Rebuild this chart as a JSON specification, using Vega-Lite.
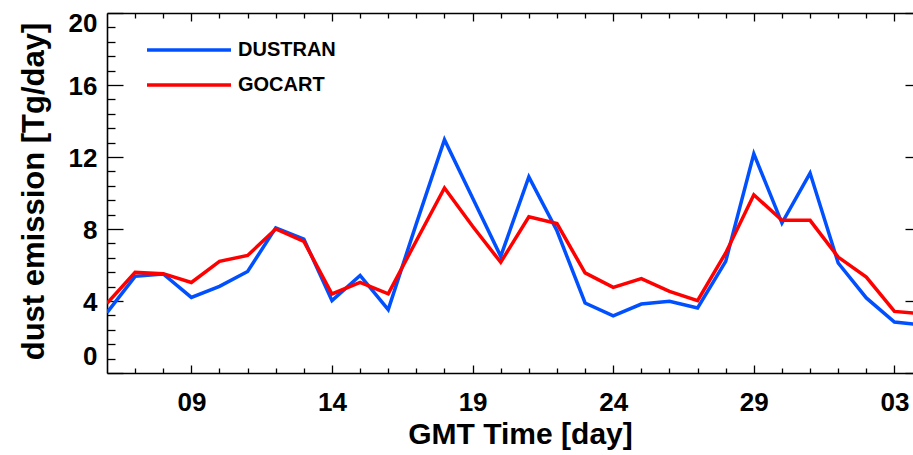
{
  "$schema": "https://vega.github.io/schema/vega-lite/v6.json",
  "width": 806,
  "height": 360,
  "autosize": {"type": "none"},
  "padding": {"left": 107, "top": 13, "right": 0, "bottom": 82},
  "background": "white",
  "config": {
    "view": {"stroke": null},
    "axis": {
      "labelFont": "Liberation Sans", "labelFontWeight": "bold", "labelColor": "black",
      "titleFont": "Liberation Sans", "titleFontWeight": "bold", "titleColor": "black",
      "grid": false, "domainColor": "black", "tickColor": "black", "domainWidth": 1.6, "tickWidth": 1.3
    }
  },
  "data": {"values": [
    {"day": 6, "model": "DUSTRAN", "value": 3.35},
    {"day": 7, "model": "DUSTRAN", "value": 5.37},
    {"day": 8, "model": "DUSTRAN", "value": 5.5},
    {"day": 9, "model": "DUSTRAN", "value": 4.2},
    {"day": 10, "model": "DUSTRAN", "value": 4.81},
    {"day": 11, "model": "DUSTRAN", "value": 5.64},
    {"day": 12, "model": "DUSTRAN", "value": 8.06},
    {"day": 13, "model": "DUSTRAN", "value": 7.44},
    {"day": 14, "model": "DUSTRAN", "value": 4.02},
    {"day": 15, "model": "DUSTRAN", "value": 5.42},
    {"day": 16, "model": "DUSTRAN", "value": 3.52},
    {"day": 17, "model": "DUSTRAN", "value": 8.3},
    {"day": 18, "model": "DUSTRAN", "value": 12.96},
    {"day": 19, "model": "DUSTRAN", "value": 9.72},
    {"day": 20, "model": "DUSTRAN", "value": 6.48},
    {"day": 21, "model": "DUSTRAN", "value": 10.89},
    {"day": 22, "model": "DUSTRAN", "value": 7.9},
    {"day": 23, "model": "DUSTRAN", "value": 3.89},
    {"day": 24, "model": "DUSTRAN", "value": 3.18},
    {"day": 25, "model": "DUSTRAN", "value": 3.83},
    {"day": 26, "model": "DUSTRAN", "value": 3.98},
    {"day": 27, "model": "DUSTRAN", "value": 3.61},
    {"day": 28, "model": "DUSTRAN", "value": 6.2},
    {"day": 29, "model": "DUSTRAN", "value": 12.18},
    {"day": 30, "model": "DUSTRAN", "value": 8.33},
    {"day": 31, "model": "DUSTRAN", "value": 11.11},
    {"day": 32, "model": "DUSTRAN", "value": 6.11},
    {"day": 33, "model": "DUSTRAN", "value": 4.17},
    {"day": 34, "model": "DUSTRAN", "value": 2.83},
    {"day": 35, "model": "DUSTRAN", "value": 2.67},
    {"day": 6, "model": "GOCART", "value": 3.87},
    {"day": 7, "model": "GOCART", "value": 5.59},
    {"day": 8, "model": "GOCART", "value": 5.52},
    {"day": 9, "model": "GOCART", "value": 5.03},
    {"day": 10, "model": "GOCART", "value": 6.2},
    {"day": 11, "model": "GOCART", "value": 6.53},
    {"day": 12, "model": "GOCART", "value": 8.0},
    {"day": 13, "model": "GOCART", "value": 7.31},
    {"day": 14, "model": "GOCART", "value": 4.39},
    {"day": 15, "model": "GOCART", "value": 5.03},
    {"day": 16, "model": "GOCART", "value": 4.4},
    {"day": 17, "model": "GOCART", "value": 7.35},
    {"day": 18, "model": "GOCART", "value": 10.28},
    {"day": 19, "model": "GOCART", "value": 8.15},
    {"day": 20, "model": "GOCART", "value": 6.15},
    {"day": 21, "model": "GOCART", "value": 8.68},
    {"day": 22, "model": "GOCART", "value": 8.3},
    {"day": 23, "model": "GOCART", "value": 5.56},
    {"day": 24, "model": "GOCART", "value": 4.76},
    {"day": 25, "model": "GOCART", "value": 5.24},
    {"day": 26, "model": "GOCART", "value": 4.53},
    {"day": 27, "model": "GOCART", "value": 4.02},
    {"day": 28, "model": "GOCART", "value": 6.67},
    {"day": 29, "model": "GOCART", "value": 9.9},
    {"day": 30, "model": "GOCART", "value": 8.48},
    {"day": 31, "model": "GOCART", "value": 8.48},
    {"day": 32, "model": "GOCART", "value": 6.44},
    {"day": 33, "model": "GOCART", "value": 5.33},
    {"day": 34, "model": "GOCART", "value": 3.42},
    {"day": 35, "model": "GOCART", "value": 3.29}
  ]},
  "resolve": {"axis": {"x": "independent", "y": "independent"}},
  "layer": [
    {
      "mark": {"type": "line", "strokeWidth": 3.5, "clip": true},
      "encoding": {
        "x": {"field": "day", "type": "quantitative",
          "scale": {"domain": [6, 34.66], "nice": false, "zero": false},
          "axis": {"orient": "bottom", "values": [9, 14, 19, 24, 29, 34], "ticks": false, "tickSize": 0,
            "labelExpr": "datum.value > 31 ? '0' + (datum.value - 31) : (datum.value < 10 ? '0' + datum.value : '' + datum.value)",
            "labelFontSize": 26, "labelBaseline": "alphabetic", "labelPadding": 37,
            "title": "GMT Time [day]", "titleFontSize": 30, "titleX": 413, "titleY": 70,
            "titleAlign": "center", "titleBaseline": "alphabetic"}},
        "y": {"field": "value", "type": "quantitative",
          "scale": {"domain": [0, 20], "nice": false},
          "axis": {"orient": "left", "values": [0, 4, 8, 12, 16, 20], "ticks": false, "tickSize": 0,
            "labelFontSize": 26, "labelPadding": 10, "labelBaseline": "middle",
            "labelOffset": {"condition": [{"test": "datum.value == 0", "value": -17}, {"test": "datum.value == 20", "value": 10}], "value": 1},
            "title": "dust emission [Tg/day]", "titleFontSize": 31, "titleX": -64, "titleY": 178,
            "titleAngle": 270, "titleAlign": "center", "titleBaseline": "alphabetic"}},
        "color": {"field": "model", "type": "nominal",
          "scale": {"domain": ["DUSTRAN", "GOCART"], "range": ["#0050ff", "#ff0000"]},
          "legend": {"orient": "none", "legendX": 71.5, "legendY": 26.5, "title": null, "padding": 0,
            "symbolType": "M-5,0H5", "symbolSize": 282, "symbolStrokeWidth": 3.3,
            "labelFont": "Liberation Sans", "labelFontWeight": "bold", "labelFontSize": 20, "labelColor": "black",
            "labelOffset": 38.5, "rowPadding": 14}}
      }
    },
    {
      "mark": {"type": "point", "opacity": 0, "clip": true},
      "encoding": {
        "x": {"field": "day", "type": "quantitative", "scale": {"domain": [6, 34.66], "nice": false, "zero": false},
          "axis": {"orient": "bottom", "values": [9, 14, 19, 24, 29, 34], "labels": false, "domain": false, "tickSize": -8, "title": null}},
        "y": {"field": "value", "type": "quantitative", "scale": {"domain": [0, 20], "nice": false},
          "axis": {"orient": "left", "values": [0, 4, 8, 12, 16, 20], "labels": false, "domain": false, "tickSize": -16, "title": null}}
      }
    },
    {
      "mark": {"type": "point", "opacity": 0, "clip": true},
      "encoding": {
        "x": {"field": "day", "type": "quantitative", "scale": {"domain": [6, 34.66], "nice": false, "zero": false},
          "axis": {"orient": "bottom", "values": [7, 8, 10, 11, 12, 13, 15, 16, 17, 18, 20, 21, 22, 23, 25, 26, 27, 28, 30, 31, 32, 33], "labels": false, "domain": false, "tickSize": -5, "title": null}},
        "y": {"field": "value", "type": "quantitative", "scale": {"domain": [0, 20], "nice": false},
          "axis": {"orient": "left", "values": [0.8, 1.6, 2.4, 3.2, 4.8, 5.6, 6.4, 7.2, 8.8, 9.6, 10.4, 11.2, 12.8, 13.6, 14.4, 15.2, 16.8, 17.6, 18.4, 19.2], "labels": false, "domain": false, "tickSize": -8, "title": null}}
      }
    },
    {
      "mark": {"type": "point", "opacity": 0, "clip": true},
      "encoding": {
        "x": {"field": "day", "type": "quantitative", "scale": {"domain": [6, 34.66], "nice": false, "zero": false},
          "axis": {"orient": "top", "values": [9, 14, 19, 24, 29, 34], "labels": false, "domain": true, "tickSize": -8, "title": null}},
        "y": {"field": "value", "type": "quantitative", "scale": {"domain": [0, 20], "nice": false},
          "axis": {"orient": "right", "values": [0, 4, 8, 12, 16, 20], "labels": false, "domain": false, "tickSize": -8, "title": null}}
      }
    },
    {
      "mark": {"type": "point", "opacity": 0, "clip": true},
      "encoding": {
        "x": {"field": "day", "type": "quantitative", "scale": {"domain": [6, 34.66], "nice": false, "zero": false},
          "axis": {"orient": "top", "values": [7, 8, 10, 11, 12, 13, 15, 16, 17, 18, 20, 21, 22, 23, 25, 26, 27, 28, 30, 31, 32, 33], "labels": false, "domain": false, "tickSize": -5, "title": null}},
        "y": {"field": "value", "type": "quantitative", "scale": {"domain": [0, 20], "nice": false}, "axis": null}
      }
    }
  ]
}
